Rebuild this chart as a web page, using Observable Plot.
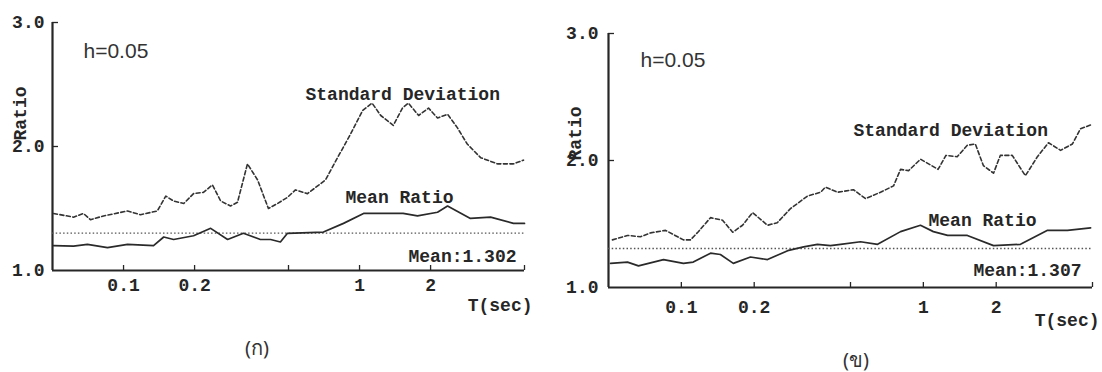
<!DOCTYPE html>
<html>
<head>
<meta charset="utf-8">
<script src="https://cdn.jsdelivr.net/npm/d3@7"></script>
<script src="https://cdn.jsdelivr.net/npm/@observablehq/plot@0.6"></script>
<style>
  body { margin: 0; background: #fff; }
  #wrap { position: relative; width: 1102px; height: 372px; overflow: hidden; background: #fff; }
  .panel { position: absolute; top: 0; }
  .cap { position: absolute; font-family: "Noto Sans", "DejaVu Sans", sans-serif; font-size: 20px; color: #333;
         transform: translate(-50%, -50%); white-space: nowrap; }
</style>
</head>
<body>
<div id="wrap">
  <div id="panelA" class="panel" style="left:0px"></div>
  <div id="panelB" class="panel" style="left:550px"></div>
  <div class="cap" style="left:257px; top:348px">(ก)</div>
  <div class="cap" style="left:856px; top:360px">(ข)</div>
</div>
<script>
// Axis ticks shared by both panels
const periodTicks = [0.05, 0.1, 0.2, 0.5, 1, 2, 5];
const ratioTicks = [1, 2, 3];
const dampingLabel = "h=0.05";

// Panel (ก): standard deviation curve
const periodsSdA = [0.0505, 0.0614, 0.0676, 0.0724, 0.0822, 0.104, 0.118, 0.139, 0.151, 0.163, 0.180, 0.198, 0.218, 0.238, 0.258, 0.284, 0.304, 0.335, 0.370, 0.411, 0.449, 0.495, 0.535, 0.602, 0.717, 0.807, 0.916, 1.03, 1.13, 1.23, 1.39, 1.52, 1.61, 1.78, 1.96, 2.14, 2.36, 2.60, 2.86, 3.26, 3.84, 4.49, 4.95];
const sdA = [1.46, 1.43, 1.46, 1.41, 1.44, 1.48, 1.45, 1.48, 1.60, 1.56, 1.54, 1.62, 1.63, 1.69, 1.56, 1.52, 1.55, 1.86, 1.73, 1.50, 1.54, 1.59, 1.65, 1.62, 1.73, 1.91, 2.10, 2.29, 2.35, 2.25, 2.17, 2.31, 2.35, 2.25, 2.31, 2.23, 2.26, 2.15, 2.02, 1.91, 1.86, 1.86, 1.89];
// Panel (ก): mean ratio curve
const periodsMeanA = [0.0505, 0.0614, 0.0703, 0.0855, 0.104, 0.134, 0.148, 0.163, 0.198, 0.234, 0.276, 0.322, 0.380, 0.420, 0.462, 0.495, 0.703, 0.855, 1.04, 1.53, 1.76, 2.14, 2.36, 2.95, 3.59, 4.49, 5.0];
const meanRatioA = [1.20, 1.196, 1.21, 1.185, 1.21, 1.20, 1.27, 1.25, 1.28, 1.34, 1.25, 1.30, 1.25, 1.25, 1.23, 1.30, 1.31, 1.38, 1.46, 1.46, 1.44, 1.47, 1.52, 1.42, 1.43, 1.38, 1.38];
const overallMeanA = 1.302;

// Panel (ข): standard deviation curve
const periodsSdB = [0.0519, 0.0599, 0.0678, 0.0746, 0.0860, 0.102, 0.109, 0.117, 0.132, 0.148, 0.163, 0.179, 0.197, 0.227, 0.249, 0.282, 0.332, 0.376, 0.394, 0.442, 0.514, 0.577, 0.665, 0.753, 0.805, 0.869, 0.973, 1.15, 1.24, 1.38, 1.52, 1.64, 1.77, 1.95, 2.08, 2.33, 2.64, 2.96, 3.29, 3.69, 4.13, 4.46, 4.91];
const sdB = [1.375, 1.41, 1.40, 1.43, 1.45, 1.375, 1.375, 1.435, 1.55, 1.53, 1.435, 1.49, 1.59, 1.49, 1.51, 1.62, 1.72, 1.75, 1.79, 1.75, 1.77, 1.70, 1.75, 1.80, 1.93, 1.92, 2.01, 1.93, 2.04, 2.03, 2.12, 2.13, 1.96, 1.90, 2.04, 2.04, 1.88, 2.03, 2.14, 2.08, 2.13, 2.25, 2.28];
// Panel (ข): mean ratio curve
const periodsMeanB = [0.051, 0.0599, 0.0665, 0.0844, 0.102, 0.112, 0.132, 0.145, 0.164, 0.193, 0.227, 0.275, 0.320, 0.365, 0.413, 0.455, 0.550, 0.647, 0.805, 0.973, 1.10, 1.26, 1.52, 1.95, 2.52, 3.26, 3.94, 4.91];
const meanRatioB = [1.19, 1.20, 1.17, 1.22, 1.19, 1.20, 1.27, 1.26, 1.19, 1.24, 1.22, 1.29, 1.32, 1.34, 1.33, 1.34, 1.36, 1.34, 1.44, 1.49, 1.44, 1.41, 1.41, 1.33, 1.34, 1.45, 1.45, 1.47];
const overallMeanB = 1.307;

const ink = "#262626";
const mono = "Liberation Mono, DejaVu Sans Mono, monospace";

function ratioPanel(o) {
  const fw = o.width - o.marginLeft - o.marginRight;
  return Plot.plot({
    width: o.width,
    height: o.height,
    marginLeft: o.marginLeft,
    marginRight: o.marginRight,
    marginTop: o.marginTop,
    marginBottom: o.marginBottom,
    style: { fontFamily: mono, fontSize: "18px", fontWeight: "bold", color: ink, background: "transparent", overflow: "visible" },
    x: { type: "log", domain: [0.05, 5] },
    y: { domain: [1, 3] },
    marks: [
      // period tick labels and short inward ticks
      Plot.axisX(periodTicks, { tickSize: 0, tickPadding: o.xPad, tickFormat: d => String(d), label: null, fill: ink }),
      Plot.axisX(periodTicks.slice(1), { tickSize: 5, dy: -5, tickFormat: () => "", label: null, stroke: ink, strokeWidth: 1.3 }),
      // ratio tick labels and inward ticks
      Plot.axisY(ratioTicks, { tickSize: 0, tickPadding: o.yPad, label: null, fill: ink }),
      Plot.axisY(ratioTicks.slice(1), { tickSize: 6, dx: 6, tickFormat: () => "", label: null, stroke: ink, strokeWidth: 1.3 }),
      // axis lines
      Plot.ruleX([0.05], { stroke: ink, strokeWidth: 2.2 }),
      Plot.ruleY([1], { stroke: ink, strokeWidth: 2 }),
      // overall mean (dotted)
      Plot.ruleY([o.overallMean], { stroke: "#555", strokeWidth: 1.3, strokeDasharray: "1.5 2.2" }),
      // standard deviation (dashed) and mean ratio (solid)
      Plot.line(o.periodsSd, { x: o.periodsSd, y: o.sd, stroke: "#333", strokeWidth: 1.6, strokeDasharray: "4 2.5", curve: "linear" }),
      Plot.line(o.periodsMean, { x: o.periodsMean, y: o.meanRatio, stroke: "#2a2a2a", strokeWidth: 1.7, curve: "linear" }),
      // annotations
      Plot.text([dampingLabel], { text: d => d, frameAnchor: "top-left", dx: o.h[0], dy: o.h[1], textAnchor: "start",
        fontFamily: "Liberation Sans, Arial, sans-serif", fontWeight: "normal", fontSize: 21, fill: "#333" }),
      Plot.text(["Standard Deviation"], { text: d => d, frameAnchor: "top-left", dx: o.sdLab[0], dy: o.sdLab[1], textAnchor: "start", fill: ink }),
      Plot.text(["Mean Ratio"], { text: d => d, frameAnchor: "top-left", dx: o.meanLab[0], dy: o.meanLab[1], textAnchor: "start", fill: ink }),
      Plot.text([o.overallMean], { text: d => `Mean:${d}`, frameAnchor: "top-left", dx: o.valLab[0], dy: o.valLab[1], textAnchor: "start", fill: ink }),
      Plot.text(["Ratio"], { text: d => d, frameAnchor: "left", rotate: -90, dx: o.yLab[0], dy: o.yLab[1], fill: ink }),
      Plot.text(["T(sec)"], { text: d => d, frameAnchor: "bottom-right", dx: o.xLab[0], dy: o.xLab[1], textAnchor: "end", fill: ink })
    ]
  });
}

document.getElementById("panelA").append(ratioPanel({
  width: 550, height: 330, marginLeft: 52, marginRight: 26, marginTop: 22, marginBottom: 60,
  xPad: 8, yPad: 8,
  periodsSd: periodsSdA, sd: sdA, periodsMean: periodsMeanA, meanRatio: meanRatioA, overallMean: overallMeanA,
  h: [31, 21], sdLab: [253, 65], meanLab: [293, 168], valLab: [356, 227], yLab: [-32, -6], xLab: [8, 40]
}));

document.getElementById("panelB").append(ratioPanel({
  width: 552, height: 340, marginLeft: 58, marginRight: 10, marginTop: 33, marginBottom: 53,
  xPad: 13, yPad: 10,
  periodsSd: periodsSdB, sd: sdB, periodsMean: periodsMeanB, meanRatio: meanRatioB, overallMean: overallMeanB,
  h: [32, 19], sdLab: [245, 90], meanLab: [320, 180], valLab: [365, 230], yLab: [-33, 0], xLab: [7, 38]
}));
</script>
</body>
</html>
